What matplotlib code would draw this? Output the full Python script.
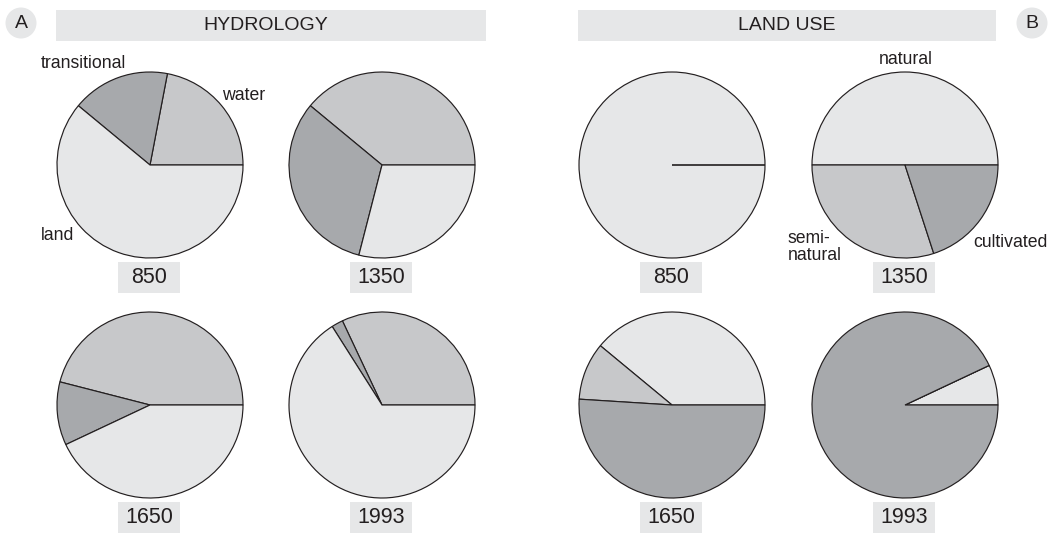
import matplotlib.pyplot as plt
from matplotlib.patches import Rectangle, Circle

plt.rcParams['font.family'] = ['Liberation Sans', 'DejaVu Sans']

# data (percent of each pie)
years = ['850', '1350', '1650', '1993']
hydro_water = [22, 39, 46, 32]
hydro_transitional = [17, 32, 11, 2]
hydro_land = [61, 29, 43, 66]
lu_natural = [100, 50, 39, 7]
lu_seminatural = [0, 30, 10, 0]
lu_cultivated = [0, 20, 51, 93]

light = '#e6e7e8'
mid = '#c7c8ca'
dark = '#a7a9ac'
ink = '#231f20'

W, H = 1054, 534
fig = plt.figure(figsize=(W / 100, H / 100), dpi=100)
ax = fig.add_axes([0, 0, 1, 1])

R = 93
hydro_xy = [(150, 369), (382, 369), (150, 129), (382, 129)]
lu_xy = [(672, 369), (905, 369), (672, 129), (905, 129)]
wp = dict(edgecolor=ink, linewidth=0.85)

for i in range(4):
    ax.pie([hydro_water[i], hydro_transitional[i], hydro_land[i]],
           colors=[mid, dark, light], center=hydro_xy[i], radius=R,
           startangle=0, counterclock=True, wedgeprops=wp)
    ax.pie([lu_natural[i], lu_seminatural[i], lu_cultivated[i]],
           colors=[light, mid, dark], center=lu_xy[i], radius=R,
           startangle=0, counterclock=True, wedgeprops=wp)

# year boxes under each pie
for xy, yr in zip(hydro_xy + lu_xy, years + years):
    cx = xy[0] - 1
    by = xy[1] - 128
    ax.add_patch(Rectangle((cx - 31, by), 62, 31, facecolor=light,
                           edgecolor='none'))
    ax.text(cx, by + 15.5, yr, ha='center', va='center', fontsize=15.5,
            color=ink)

# header bars
ax.add_patch(Rectangle((56, 493), 430, 31, facecolor=light, edgecolor='none'))
ax.text(266, 508.5, 'HYDROLOGY', ha='center', va='center', fontsize=14,
        color=ink)
ax.add_patch(Rectangle((578, 493), 418, 31, facecolor=light, edgecolor='none'))
ax.text(787, 508.5, 'LAND USE', ha='center', va='center', fontsize=14,
        color=ink)

ax.add_patch(Circle((21, 511), 15.5, facecolor=light, edgecolor='none'))
ax.text(21, 511, 'A', ha='center', va='center', fontsize=14, color=ink)
ax.add_patch(Circle((1032, 511), 15.5, facecolor=light, edgecolor='none'))
ax.text(1032, 511, 'B', ha='center', va='center', fontsize=14, color=ink)

# category labels
lab = dict(fontsize=12.7, color=ink)
ax.text(83, H - 64, 'transitional', ha='center', va='center', **lab)
ax.text(244, H - 96, 'water', ha='center', va='center', **lab)
ax.text(58, H - 236, 'land', ha='center', va='center', **lab)
ax.text(906, H - 59, 'natural', ha='center', va='center', **lab)
ax.text(788, H - 247, 'semi-\nnatural', ha='left', va='center',
        linespacing=0.95, **lab)
ax.text(1010, H - 242.5, 'cultivated', ha='center', va='center', **lab)

ax.set_xlim(0, W)
ax.set_ylim(0, H)
ax.set_aspect('equal')
ax.axis('off')

fig.savefig('out.png', dpi=100, facecolor='white')
